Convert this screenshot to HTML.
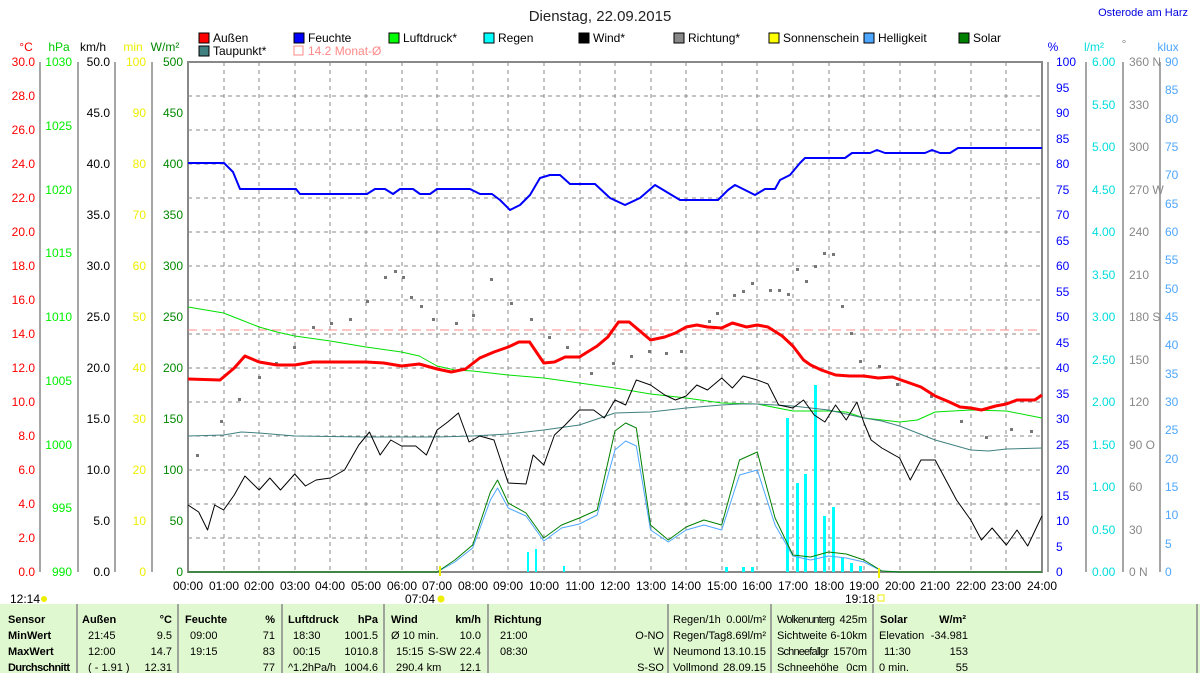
<!DOCTYPE html>
<html><head><meta charset="utf-8"><style>
body{margin:0;background:#fff;}
svg{display:block;font-family:"Liberation Sans",sans-serif;font-size:12px;}
</style></head><body>
<svg width="1200" height="673" viewBox="0 0 1200 673" xmlns="http://www.w3.org/2000/svg">
<rect width="1200" height="673" fill="#fff"/>
<text x="600" y="21" font-size="15" text-anchor="middle" fill="#222">Dienstag, 22.09.2015</text>
<text x="1188" y="16" font-size="11" text-anchor="end" fill="#0000e0">Osterode am Harz</text>
<g font-size="12" fill="#000">
<rect x="199" y="33" width="10" height="10" fill="#f00" stroke="#000"/><text x="213" y="42">Außen</text>
<rect x="294" y="33" width="10" height="10" fill="#00f" stroke="#000"/><text x="308" y="42">Feuchte</text>
<rect x="389" y="33" width="10" height="10" fill="#0f0" stroke="#000"/><text x="403" y="42">Luftdruck*</text>
<rect x="484" y="33" width="10" height="10" fill="#0ff" stroke="#000"/><text x="498" y="42">Regen</text>
<rect x="579" y="33" width="10" height="10" fill="#000" stroke="#000"/><text x="593" y="42">Wind*</text>
<rect x="674" y="33" width="10" height="10" fill="#888" stroke="#000"/><text x="688" y="42">Richtung*</text>
<rect x="769" y="33" width="10" height="10" fill="#ff0" stroke="#000"/><text x="783" y="42">Sonnenschein</text>
<rect x="864" y="33" width="10" height="10" fill="#4da6ff" stroke="#000"/><text x="878" y="42">Helligkeit</text>
<rect x="959" y="33" width="10" height="10" fill="#008000" stroke="#000"/><text x="973" y="42">Solar</text>
<rect x="199" y="46" width="10" height="10" fill="#408080" stroke="#000"/><text x="213" y="55">Taupunkt*</text>
<rect x="294" y="46" width="9" height="9" fill="none" stroke="#f88"/><text x="308" y="55" fill="#f88">14.2 Monat-Ø</text>
</g>
<g font-size="12">
<text x="26" y="51" fill="#f00" text-anchor="middle">°C</text>
<text x="59" y="51" fill="#0c0" text-anchor="middle">hPa</text>
<text x="93" y="51" fill="#000" text-anchor="middle">km/h</text>
<text x="133" y="51" fill="#ee0" text-anchor="middle">min</text>
<text x="165" y="51" fill="#080" text-anchor="middle">W/m²</text>
<text x="1053" y="51" fill="#00f" text-anchor="middle">%</text>
<text x="1094" y="51" fill="#0dd" text-anchor="middle">l/m²</text>
<text x="1124" y="48" fill="#888" text-anchor="middle">°</text>
<text x="1168" y="51" fill="#4da6ff" text-anchor="middle">klux</text>
</g>
<g stroke="#888" stroke-dasharray="4,4" stroke-width="1">
<path d="M224 62V572M259 62V572M295 62V572M330 62V572M366 62V572M402 62V572M437 62V572M473 62V572M508 62V572M544 62V572M580 62V572M615 62V572M651 62V572M686 62V572M722 62V572M757 62V572M793 62V572M829 62V572M864 62V572M900 62V572M935 62V572M971 62V572M1006 62V572"/>
<path d="M188 96H1042M188 130H1042M188 164H1042M188 198H1042M188 232H1042M188 266H1042M188 300H1042M188 334H1042M188 368H1042M188 402H1042M188 436H1042M188 470H1042M188 504H1042M188 538H1042"/>
</g>
<rect x="188" y="62" width="854" height="510" fill="none" stroke="#888" stroke-width="2"/>
<g stroke="#888" stroke-width="1.5">
<path d="M40 62V572M78 62V572M115 62V572M152 62V572M1048 62V572M1086 62V572M1123 62V572M1160 62V572"/>
</g>
<g font-size="12" text-anchor="end">
<g fill="#f00">
<text x="35" y="66">30.0</text><text x="35" y="100">28.0</text><text x="35" y="134">26.0</text><text x="35" y="168">24.0</text><text x="35" y="202">22.0</text><text x="35" y="236">20.0</text><text x="35" y="270">18.0</text><text x="35" y="304">16.0</text><text x="35" y="338">14.0</text><text x="35" y="372">12.0</text><text x="35" y="406">10.0</text><text x="35" y="440">8.0</text><text x="35" y="474">6.0</text><text x="35" y="508">4.0</text><text x="35" y="542">2.0</text><text x="35" y="576">0.0</text>
</g>
<g fill="#0e0">
<text x="72" y="66">1030</text><text x="72" y="130">1025</text><text x="72" y="194">1020</text><text x="72" y="257">1015</text><text x="72" y="321">1010</text><text x="72" y="385">1005</text><text x="72" y="449">1000</text><text x="72" y="512">995</text><text x="72" y="576">990</text>
</g>
<g fill="#000">
<text x="110" y="66">50.0</text><text x="110" y="117">45.0</text><text x="110" y="168">40.0</text><text x="110" y="219">35.0</text><text x="110" y="270">30.0</text><text x="110" y="321">25.0</text><text x="110" y="372">20.0</text><text x="110" y="423">15.0</text><text x="110" y="474">10.0</text><text x="110" y="525">5.0</text><text x="110" y="576">0.0</text>
</g>
<g fill="#ee0">
<text x="146" y="66">100</text><text x="146" y="117">90</text><text x="146" y="168">80</text><text x="146" y="219">70</text><text x="146" y="270">60</text><text x="146" y="321">50</text><text x="146" y="372">40</text><text x="146" y="423">30</text><text x="146" y="474">20</text><text x="146" y="525">10</text><text x="146" y="576">0</text>
</g>
<g fill="#080">
<text x="183" y="66">500</text><text x="183" y="117">450</text><text x="183" y="168">400</text><text x="183" y="219">350</text><text x="183" y="270">300</text><text x="183" y="321">250</text><text x="183" y="372">200</text><text x="183" y="423">150</text><text x="183" y="474">100</text><text x="183" y="525">50</text><text x="183" y="576">0</text>
</g>
</g>
<g font-size="12">
<g fill="#00f">
<text x="1056" y="66">100</text><text x="1056" y="92">95</text><text x="1056" y="117">90</text><text x="1056" y="143">85</text><text x="1056" y="168">80</text><text x="1056" y="194">75</text><text x="1056" y="219">70</text><text x="1056" y="245">65</text><text x="1056" y="270">60</text><text x="1056" y="296">55</text><text x="1056" y="321">50</text><text x="1056" y="347">45</text><text x="1056" y="372">40</text><text x="1056" y="398">35</text><text x="1056" y="423">30</text><text x="1056" y="449">25</text><text x="1056" y="474">20</text><text x="1056" y="500">15</text><text x="1056" y="525">10</text><text x="1056" y="551">5</text><text x="1056" y="576">0</text>
</g>
<g fill="#0dd">
<text x="1092" y="66">6.00</text><text x="1092" y="109">5.50</text><text x="1092" y="151">5.00</text><text x="1092" y="194">4.50</text><text x="1092" y="236">4.00</text><text x="1092" y="279">3.50</text><text x="1092" y="321">3.00</text><text x="1092" y="364">2.50</text><text x="1092" y="406">2.00</text><text x="1092" y="449">1.50</text><text x="1092" y="491">1.00</text><text x="1092" y="534">0.50</text><text x="1092" y="576">0.00</text>
</g>
<g fill="#888">
<text x="1129" y="66">360 N</text><text x="1129" y="109">330</text><text x="1129" y="151">300</text><text x="1129" y="194">270 W</text><text x="1129" y="236">240</text><text x="1129" y="279">210</text><text x="1129" y="321">180 S</text><text x="1129" y="364">150</text><text x="1129" y="406">120</text><text x="1129" y="449">90  O</text><text x="1129" y="491">60</text><text x="1129" y="534">30</text><text x="1129" y="576">0   N</text>
</g>
<g fill="#4da6ff">
<text x="1165" y="66">90</text><text x="1165" y="94">85</text><text x="1165" y="123">80</text><text x="1165" y="151">75</text><text x="1165" y="179">70</text><text x="1165" y="208">65</text><text x="1165" y="236">60</text><text x="1165" y="264">55</text><text x="1165" y="293">50</text><text x="1165" y="321">45</text><text x="1165" y="349">40</text><text x="1165" y="378">35</text><text x="1165" y="406">30</text><text x="1165" y="434">25</text><text x="1165" y="463">20</text><text x="1165" y="491">15</text><text x="1165" y="519">10</text><text x="1165" y="548">5</text><text x="1165" y="576">0</text>
</g>
</g>
<g fill="#0ff">
<rect x="786" y="418" width="3" height="154"/><rect x="796" y="483" width="3" height="89"/><rect x="804" y="474" width="3" height="98"/><rect x="814" y="385" width="3" height="187"/><rect x="823" y="516" width="3" height="56"/><rect x="832" y="507" width="3" height="65"/><rect x="841" y="558" width="3" height="14"/><rect x="850" y="563" width="3" height="9"/><rect x="859" y="566" width="3" height="6"/>
<rect x="527" y="552" width="2" height="20"/><rect x="535" y="549" width="2" height="23"/><rect x="563" y="566" width="2" height="6"/><rect x="725" y="567" width="3" height="5"/><rect x="742" y="567" width="3" height="5"/><rect x="751" y="567" width="3" height="5"/>
</g>
<line x1="188" y1="330" x2="1042" y2="330" stroke="#f88" stroke-dasharray="9,5"/>
<g fill="#777">
<rect x="196" y="454" width="3" height="3"/><rect x="220" y="420" width="3" height="3"/><rect x="238" y="398" width="3" height="3"/><rect x="258" y="376" width="3" height="3"/><rect x="275" y="362" width="3" height="3"/><rect x="293" y="346" width="3" height="3"/><rect x="312" y="326" width="3" height="3"/><rect x="330" y="322" width="3" height="3"/><rect x="349" y="318" width="3" height="3"/><rect x="366" y="300" width="3" height="3"/><rect x="384" y="276" width="3" height="3"/><rect x="394" y="270" width="3" height="3"/><rect x="402" y="276" width="3" height="3"/><rect x="410" y="296" width="3" height="3"/><rect x="420" y="305" width="3" height="3"/><rect x="432" y="318" width="3" height="3"/><rect x="455" y="322" width="3" height="3"/><rect x="472" y="314" width="3" height="3"/><rect x="490" y="278" width="3" height="3"/><rect x="510" y="302" width="3" height="3"/><rect x="530" y="318" width="3" height="3"/><rect x="548" y="336" width="3" height="3"/><rect x="566" y="346" width="3" height="3"/><rect x="590" y="372" width="3" height="3"/><rect x="612" y="362" width="3" height="3"/><rect x="630" y="355" width="3" height="3"/><rect x="648" y="350" width="3" height="3"/><rect x="665" y="352" width="3" height="3"/><rect x="680" y="350" width="3" height="3"/><rect x="708" y="320" width="3" height="3"/><rect x="716" y="312" width="3" height="3"/><rect x="733" y="294" width="3" height="3"/><rect x="742" y="290" width="3" height="3"/><rect x="751" y="282" width="3" height="3"/><rect x="769" y="289" width="3" height="3"/><rect x="778" y="289" width="3" height="3"/><rect x="787" y="293" width="3" height="3"/><rect x="796" y="268" width="3" height="3"/><rect x="805" y="280" width="3" height="3"/><rect x="814" y="265" width="3" height="3"/><rect x="823" y="252" width="3" height="3"/><rect x="832" y="253" width="3" height="3"/><rect x="841" y="305" width="3" height="3"/><rect x="850" y="332" width="3" height="3"/><rect x="859" y="360" width="3" height="3"/><rect x="878" y="365" width="3" height="3"/><rect x="896" y="383" width="3" height="3"/><rect x="930" y="395" width="3" height="3"/><rect x="960" y="420" width="3" height="3"/><rect x="985" y="436" width="3" height="3"/><rect x="1010" y="428" width="3" height="3"/><rect x="1030" y="430" width="3" height="3"/>
</g>
<g transform="translate(188,0) scale(35.58,1)" fill="none" stroke-linejoin="round">
<polyline vector-effect="non-scaling-stroke" stroke="#4da6ff" stroke-width="1" points="7,572 7.5,562 8,548 8.5,500 8.7,488 9,508 9.5,516 10,541 10.5,528 11,524 11.5,515 12,450 12.3,441 12.6,446 13,530 13.5,542 14,530 14.5,525 15,530 15.5,475 16,470 16.5,525 17,556 17.5,560 18,556 18.5,558 19,562 19.5,571 20,572"/>
<polyline vector-effect="non-scaling-stroke" stroke="#008000" stroke-width="1" points="0,572 7,572 7.5,560 8,545 8.5,492 8.7,480 9,503 9.5,513 10,538 10.5,525 11,518 11.5,510 12,431 12.3,423 12.6,428 13,525 13.5,540 14,527 14.5,520 15,525 15.5,460 16,452 16.5,518 17,555 17.5,557 18,552 18.5,554 19,560 19.5,571 20,572 24,572"/>
<polyline vector-effect="non-scaling-stroke" stroke="#00e000" stroke-width="1" points="0,307 0.5,310 1,313 1.5,320 2,327 2.5,332 3,336 4,341 5,347 6,352 6.5,356 7,366 7.5,370 8,371 9,375 10,378 11,383 12,388 13,394 14,398 15,403 16,404 17,411 18,411 18.5,412 19,418 20,422 20.5,420 21,412 22,410 23,411 24,418"/>
<polyline vector-effect="non-scaling-stroke" stroke="#408080" stroke-width="1" points="0,436 1,435 1.5,432 2,433 3,436 5,437 7,437 8,436 9,434 10,430 11,425 11.5,419 12,413 13,412 14,408 15,405 15.5,404 16,404 17,406 18,410 19,418 19.5,421 20,426 20.5,433 21,440 22,450 22.5,451 23,449 24,448"/>
<polyline vector-effect="non-scaling-stroke" stroke="#000" stroke-width="1" points="0,505 0.3,512 0.55,530 0.75,505 1,510 1.3,495 1.6,476 2,490 2.3,478 2.6,490 3,474 3.3,486 3.6,480 4,478 4.4,470 4.8,445 5.1,432 5.4,455 5.7,440 6,446 6.4,446 6.7,455 7,430 7.3,422 7.6,413 7.9,442 8.2,436 8.6,440 9,483 9.5,484 9.7,455 10,465 10.3,435 10.6,425 11,410 11.4,410 11.7,418 12,400 12.3,405 12.6,380 13,385 13.4,395 13.7,400 14,396 14.3,385 14.6,390 15,378 15.3,388 15.6,376 16,380 16.3,384 16.6,405 17,408 17.3,400 17.6,415 17.9,422 18.2,405 18.5,420 18.8,402 19,423 19.2,440 19.5,448 20,458 20.3,480 20.6,460 21,460 21.3,480 21.6,500 22,520 22.3,540 22.6,528 23,545 23.3,530 23.6,546 24,516"/>
<polyline vector-effect="non-scaling-stroke" stroke="#f00" stroke-width="3" points="0,379 0.9,380 1.3,368 1.6,356 2,362 2.5,365 3,365 3.5,362 4,362 5,362 5.5,363 6,366 6.5,364 7,369 7.4,372 7.8,369 8.2,358 8.6,352 9,347 9.3,342 9.6,342 10,363 10.3,362 10.6,357 11,357 11.5,346 11.8,337 12.1,322 12.4,322 12.7,331 13,340 13.4,337 13.7,333 14,327 14.3,325 14.6,327 15,328 15.3,323 15.7,327 16,325 16.3,327 16.7,336 17,346 17.3,360 17.5,365 17.8,370 18.2,375 18.6,376 19,376 19.4,378 19.8,377 20.2,382 20.6,387 21,396 21.4,402 21.7,407 22,408 22.3,410 22.7,406 23,404 23.3,400 23.8,400 24,395"/>
</g>
<polyline fill="none" stroke="#00f" stroke-width="2" stroke-linejoin="round" points="188,163 224,163 233,172 240,189 296,189 300,194 367,194 375,189 385,189 393,194 400,189 413,189 420,194 430,194 437,189 455,189 470,189 480,194 492,194 500,200 510,210 520,205 530,195 540,178 550,175 560,175 570,184 595,184 610,198 625,205 640,198 655,185 670,194 680,200 718,200 728,190 735,185 745,190 755,195 765,189 775,189 780,180 790,175 800,163 805,158 845,158 852,153 870,153 877,150 885,153 925,153 932,150 940,153 950,153 958,148 1042,148"/>
<rect x="439" y="566" width="2" height="10" fill="#ee0"/>
<rect x="878" y="568" width="2" height="10" fill="#ee0"/>
<g font-size="12" text-anchor="middle" fill="#000">
<text x="188" y="590">00:00</text><text x="224" y="590">01:00</text><text x="259" y="590">02:00</text><text x="295" y="590">03:00</text><text x="330" y="590">04:00</text><text x="366" y="590">05:00</text><text x="402" y="590">06:00</text><text x="437" y="590">07:00</text><text x="473" y="590">08:00</text><text x="508" y="590">09:00</text><text x="544" y="590">10:00</text><text x="580" y="590">11:00</text><text x="615" y="590">12:00</text><text x="651" y="590">13:00</text><text x="686" y="590">14:00</text><text x="722" y="590">15:00</text><text x="757" y="590">16:00</text><text x="793" y="590">17:00</text><text x="829" y="590">18:00</text><text x="864" y="590">19:00</text><text x="900" y="590">20:00</text><text x="935" y="590">21:00</text><text x="971" y="590">22:00</text><text x="1006" y="590">23:00</text><text x="1042" y="590">24:00</text>
<text x="420" y="603">07:04</text><text x="860" y="603">19:18</text>
<text x="25" y="603">12:14</text>
</g>
<circle cx="44" cy="599" r="3" fill="#ee0"/><circle cx="441" cy="599" r="3.5" fill="#ee0"/><rect x="878" y="595" width="6" height="6" fill="none" stroke="#ee0"/>
<rect x="0" y="604" width="1200" height="69" fill="#e0f8d0"/>
<g stroke="#888" stroke-width="1.5">
<path d="M77 604V673M178 604V673M282 604V673M384 604V673M488 604V673M668 604V673M771 604V673M873 604V673M1197 604V673"/>
</g>
<g font-size="11" fill="#000">
<g font-weight="bold">
<text x="8" y="623">Sensor</text><text x="8" y="639">MinWert</text><text x="8" y="655">MaxWert</text><text x="8" y="671" textLength="62">Durchschnitt</text>
<text x="82" y="623">Außen</text><text x="172" y="623" text-anchor="end">°C</text>
<text x="185" y="623">Feuchte</text><text x="275" y="623" text-anchor="end">%</text>
<text x="288" y="623">Luftdruck</text><text x="378" y="623" text-anchor="end">hPa</text>
<text x="391" y="623">Wind</text><text x="481" y="623" text-anchor="end">km/h</text>
<text x="494" y="623">Richtung</text>
<text x="880" y="623">Solar</text><text x="966" y="623" text-anchor="end">W/m²</text>
</g>
<text x="88" y="639">21:45</text><text x="172" y="639" text-anchor="end">9.5</text>
<text x="88" y="655">12:00</text><text x="172" y="655" text-anchor="end">14.7</text>
<text x="88" y="671">( - 1.91 )</text><text x="172" y="671" text-anchor="end">12.31</text>
<text x="190" y="639">09:00</text><text x="275" y="639" text-anchor="end">71</text>
<text x="190" y="655">19:15</text><text x="275" y="655" text-anchor="end">83</text>
<text x="275" y="671" text-anchor="end">77</text>
<text x="293" y="639">18:30</text><text x="378" y="639" text-anchor="end">1001.5</text>
<text x="293" y="655">00:15</text><text x="378" y="655" text-anchor="end">1010.8</text>
<text x="288" y="671" textLength="48">^1.2hPa/h</text><text x="378" y="671" text-anchor="end">1004.6</text>
<text x="391" y="639">Ø 10 min.</text><text x="481" y="639" text-anchor="end">10.0</text>
<text x="396" y="655">15:15</text><text x="481" y="655" text-anchor="end">S-SW 22.4</text>
<text x="396" y="671">290.4 km</text><text x="481" y="671" text-anchor="end">12.1</text>
<text x="500" y="639">21:00</text><text x="664" y="639" text-anchor="end">O-NO</text>
<text x="500" y="655">08:30</text><text x="664" y="655" text-anchor="end">W</text>
<text x="664" y="671" text-anchor="end">S-SO</text>
<text x="673" y="623">Regen/1h</text><text x="766" y="623" text-anchor="end">0.00l/m²</text>
<text x="673" y="639">Regen/Tag</text><text x="766" y="639" text-anchor="end">8.69l/m²</text>
<text x="673" y="655">Neumond</text><text x="766" y="655" text-anchor="end">13.10.15</text>
<text x="673" y="671">Vollmond</text><text x="766" y="671" text-anchor="end">28.09.15</text>
<text x="777" y="623" textLength="58">Wolkenunterg</text><text x="867" y="623" text-anchor="end">425m</text>
<text x="777" y="639">Sichtweite</text><text x="867" y="639" text-anchor="end">6-10km</text>
<text x="777" y="655" textLength="52">Schneefallgr</text><text x="867" y="655" text-anchor="end">1570m</text>
<text x="777" y="671">Schneehöhe</text><text x="867" y="671" text-anchor="end">0cm</text>
<text x="879" y="639">Elevation</text><text x="968" y="639" text-anchor="end">-34.981</text>
<text x="884" y="655">11:30</text><text x="968" y="655" text-anchor="end">153</text>
<text x="879" y="671">0 min.</text><text x="968" y="671" text-anchor="end">55</text>
</g>
</svg>
</body></html>
